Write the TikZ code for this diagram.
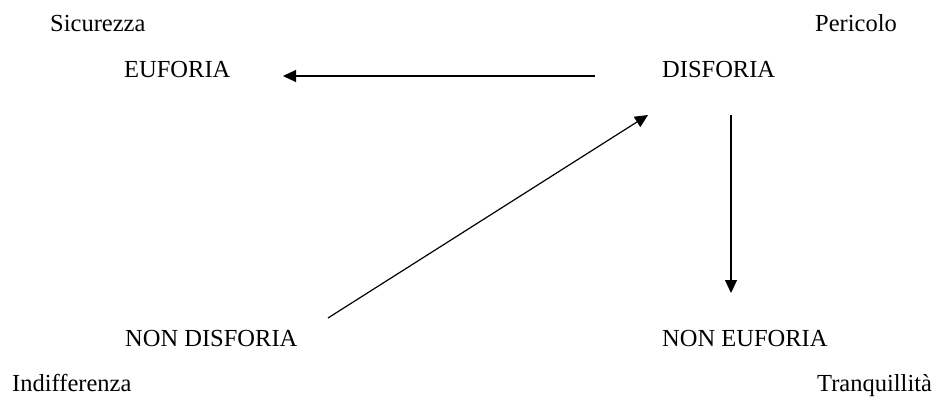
\documentclass[tikz,border=0pt]{standalone}
\usepackage{fontspec}
\setmainfont{Liberation Serif}
\usetikzlibrary{arrows.meta}
\begin{document}
\begin{tikzpicture}[x=1pt,y=-1pt,
  lbl/.style={anchor=base west,inner sep=0pt,font=\fontsize{24.5}{28}\selectfont},
  arr/.style={-{Triangle[length=13pt,width=12pt]},line width=1.2pt}]
\useasboundingbox[fill=white] (0,0) rectangle (939,398);
\node[lbl] (sic) at (50,32) {Sicurezza};
\node[lbl] (per) at (815,32) {Pericolo};
\node[lbl] (euf) at (124,78) {EUFORIA};
\node[lbl] (dis) at (662,78) {DISFORIA};
\node[lbl] (nd) at (125,346) {NON DISFORIA};
\node[lbl] (ne) at (662,346) {NON EUFORIA};
\node[lbl] (ind) at (12,391) {Indifferenza};
\node[lbl] (tra) at (817,391) {Tranquillità};
\coordinate (a1s) at (595,76);
\coordinate (a1e) at (283,76);
\coordinate (a2s) at (328,318);
\coordinate (a2e) at (648,115);
\coordinate (a3s) at (731,115);
\coordinate (a3e) at (731,293);
\draw[arr] (a1s) -- (a1e);
\draw[arr] (a2s) -- (a2e);
\draw[arr] (a3s) -- (a3e);
\end{tikzpicture}
\end{document}
